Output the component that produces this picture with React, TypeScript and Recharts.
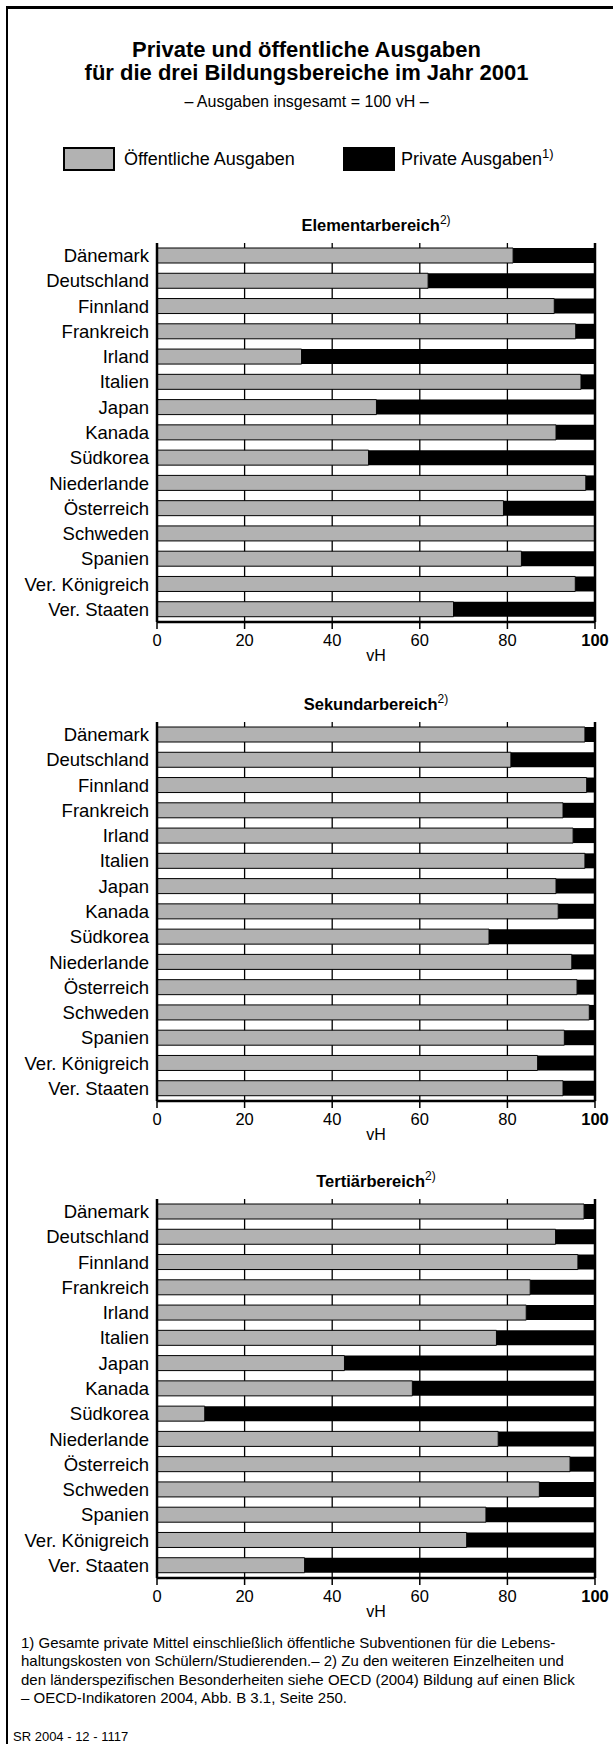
import React from 'react'
import { BarChart, Bar, XAxis, YAxis, CartesianGrid, ReferenceLine, Label } from 'recharts'

const countries = [
  'Dänemark', 'Deutschland', 'Finnland', 'Frankreich', 'Irland', 'Italien', 'Japan', 'Kanada',
  'Südkorea', 'Niederlande', 'Österreich', 'Schweden', 'Spanien', 'Ver. Königreich', 'Ver. Staaten',
]

// öffentliche / private Anteile in vH
const elementarPublic = [81.3, 61.9, 90.7, 95.6, 33.0, 96.8, 50.1, 91.1, 48.3, 97.9, 79.1, 100, 83.2, 95.5, 67.7]
const elementarPrivate = [18.7, 38.1, 9.3, 4.4, 67.0, 3.2, 49.9, 8.9, 51.7, 2.1, 20.9, 0, 16.8, 4.5, 32.3]

const sekundarPublic = [97.7, 80.8, 98.1, 92.7, 95.0, 97.7, 91.1, 91.6, 75.8, 94.7, 95.9, 98.7, 93.0, 86.9, 92.7]
const sekundarPrivate = [2.3, 19.2, 1.9, 7.3, 5.0, 2.3, 8.9, 8.4, 24.2, 5.3, 4.1, 1.3, 7.0, 13.1, 7.3]

const tertiarPublic = [97.5, 91.0, 96.1, 85.2, 84.3, 77.5, 42.8, 58.3, 10.9, 77.9, 94.3, 87.3, 75.1, 70.7, 33.7]
const tertiarPrivate = [2.5, 9.0, 3.9, 14.8, 15.7, 22.5, 57.2, 41.7, 89.1, 22.1, 5.7, 12.7, 24.9, 29.3, 66.3]

const xTicks = [0, 20, 40, 60, 80, 100]

const FONT = '"Liberation Sans", Arial, Helvetica, sans-serif'
const GRAY = '#b2b2b2'

function buildRows(pub: number[], priv: number[]) {
  return countries.map((name, i) => ({ name, pub: pub[i], priv: priv[i] }))
}

function CountryTick({ x, y, payload }: any) {
  return (
    <text x={x} y={y} dy={6.5} textAnchor="end" fontSize={18.5} fontFamily={FONT} fill="#000">
      {payload.value}
    </text>
  )
}

function ValueTick({ x, y, payload }: any) {
  const isMax = payload.value === 100
  return (
    <text
      x={x}
      y={y}
      dy={15}
      textAnchor="middle"
      fontSize={16.5}
      fontFamily={FONT}
      fontWeight={isMax ? 'bold' : 'normal'}
      fill="#000"
    >
      {payload.value}
    </text>
  )
}

function Sup({ children, size }: { children: React.ReactNode; size: number }) {
  return (
    <span style={{ fontSize: size, fontWeight: 'normal', position: 'relative', top: -7, lineHeight: 0 }}>
      {children}
    </span>
  )
}

interface SektorProps {
  title: string
  top: number
  pub: number[]
  priv: number[]
}

function Sektor({ title, top, pub, priv }: SektorProps) {
  const rows = buildRows(pub, priv)
  return (
    <>
      <div
        style={{
          position: 'absolute', left: 176, width: 400, top: top - 29, textAlign: 'center',
          fontSize: 16.5, fontWeight: 'bold', lineHeight: '22px', whiteSpace: 'nowrap',
        }}
      >
        {title}
        <Sup size={12}>2)</Sup>
      </div>
      <div style={{ position: 'absolute', left: 0, top: top - 2 }}>
        <BarChart
          width={613}
          height={423}
          data={rows}
          layout="vertical"
          margin={{ top: 2, right: 18, bottom: 0, left: 0 }}
          barSize={15}
        >
          <CartesianGrid horizontal={false} stroke="#000" strokeWidth={1.3} />
          <XAxis
            type="number"
            domain={[0, 100]}
            ticks={xTicks}
            interval={0}
            tick={<ValueTick />}
            tickSize={7}
            tickLine={{ stroke: '#000', strokeWidth: 1.5 }}
            axisLine={{ stroke: '#000', strokeWidth: 2.5 }}
            height={42}
          >
            <Label value="vH" position="insideBottom" offset={3} fontSize={16} fontFamily={FONT} fill="#000" />
          </XAxis>
          <XAxis
            xAxisId="top"
            orientation="top"
            type="number"
            domain={[0, 100]}
            tick={false}
            tickLine={false}
            axisLine={{ stroke: '#000', strokeWidth: 2.5 }}
            height={0}
          />
          <YAxis
            type="category"
            dataKey="name"
            width={157}
            tick={<CountryTick />}
            tickLine={false}
            axisLine={{ stroke: '#000', strokeWidth: 2.5 }}
            interval={0}
          />
          <ReferenceLine x={100} stroke="#000" strokeWidth={2.5} />
          <Bar dataKey="pub" stackId="a" fill={GRAY} stroke="#000" strokeWidth={1} isAnimationActive={false} />
          <Bar dataKey="priv" stackId="a" fill="#000" isAnimationActive={false} />
        </BarChart>
      </div>
    </>
  )
}

export default function App() {
  return (
    <div
      style={{
        position: 'absolute', left: 0, top: 0, width: 613, height: 1744, background: '#fff',
        fontFamily: FONT, color: '#000', overflow: 'hidden',
      }}
    >
      <div
        style={{
          position: 'absolute', left: 6, top: 6, right: 0, bottom: 0,
          borderTop: '3px solid #000', borderLeft: '2px solid #000',
        }}
      />
      <div
        style={{
          position: 'absolute', left: 0, top: 38, width: 613, textAlign: 'center',
          fontSize: 22, fontWeight: 'bold', lineHeight: '23px',
        }}
      >
        Private und öffentliche Ausgaben
        <br />
        für die drei Bildungsbereiche im Jahr 2001
      </div>
      <div
        style={{
          position: 'absolute', left: 0, top: 92, width: 613, textAlign: 'center',
          fontSize: 16, lineHeight: '20px',
        }}
      >
        – Ausgaben insgesamt = 100 vH –
      </div>

      {/* legend */}
      <div style={{ position: 'absolute', left: 63, top: 147, width: 52, height: 24, background: GRAY, border: '2px solid #000', boxSizing: 'border-box' }} />
      <div style={{ position: 'absolute', left: 124, top: 148, fontSize: 18, lineHeight: '22px', whiteSpace: 'nowrap' }}>
        Öffentliche Ausgaben
      </div>
      <div style={{ position: 'absolute', left: 343, top: 147, width: 52, height: 24, background: '#000' }} />
      <div style={{ position: 'absolute', left: 401, top: 148, fontSize: 18, lineHeight: '22px', whiteSpace: 'nowrap' }}>
        Private Ausgaben
        <Sup size={13}>1)</Sup>
      </div>

      <Sektor title="Elementarbereich" top={243} pub={elementarPublic} priv={elementarPrivate} />
      <Sektor title="Sekundarbereich" top={722} pub={sekundarPublic} priv={sekundarPrivate} />
      <Sektor title="Tertiärbereich" top={1199} pub={tertiarPublic} priv={tertiarPrivate} />

      <div
        style={{
          position: 'absolute', left: 21, top: 1634, fontSize: 15, lineHeight: '18.3px', whiteSpace: 'nowrap',
        }}
      >
        1) Gesamte private Mittel einschließlich öffentliche Subventionen für die Lebens-
        <br />
        haltungskosten von Schülern/Studierenden.– 2) Zu den weiteren Einzelheiten und
        <br />
        den länderspezifischen Besonderheiten siehe OECD (2004) Bildung auf einen Blick
        <br />
        – OECD-Indikatoren 2004, Abb. B 3.1, Seite 250.
      </div>
      <div style={{ position: 'absolute', left: 13, top: 1729, fontSize: 13, lineHeight: '16px', whiteSpace: 'nowrap' }}>
        SR 2004 - 12 - 1117
      </div>
    </div>
  )
}
